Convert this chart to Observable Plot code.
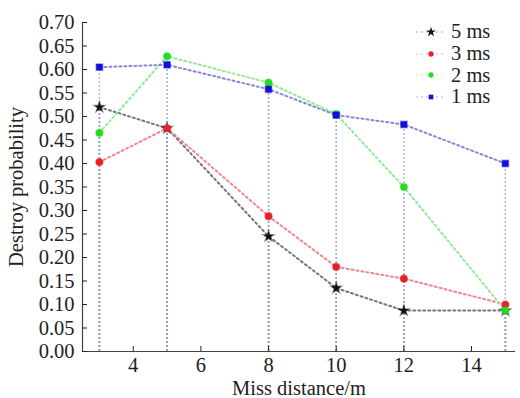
<!DOCTYPE html>
<html>
<head>
<meta charset="utf-8">
<script src="https://cdn.jsdelivr.net/npm/d3@7"></script>
<script src="https://cdn.jsdelivr.net/npm/@observablehq/plot@0.6"></script>
<style>
  html, body { margin: 0; padding: 0; background: #fff; }
  #wrap { position: relative; width: 520px; height: 398px; }
  .legend { position: absolute; left: 416px; top: 21px; font-family: "Liberation Serif", "Times New Roman", serif; font-size: 20.5px; color: #222; }
  .legend .row { display: flex; align-items: center; height: 21.7px; }
  .legend svg { margin-right: 5px; }
</style>
</head>
<body>
<div id="wrap"></div>
<script>
const distances = [3, 5, 8, 10, 12, 15];
const seriesNames = ["5 ms", "3 ms", "2 ms", "1 ms"];
const values5ms = [0.520, 0.475, 0.245, 0.135, 0.087, 0.087];
const values3ms = [0.403, 0.475, 0.288, 0.180, 0.155, 0.100];
const values2ms = [0.465, 0.628, 0.572, 0.505, 0.350, 0.087];
const values1ms = [0.605, 0.610, 0.558, 0.503, 0.483, 0.400];
const yTicks = [0, 0.05, 0.10, 0.15, 0.20, 0.25, 0.30, 0.35, 0.40, 0.45, 0.50, 0.55, 0.60, 0.65, 0.70];
const xTicks = [4, 6, 8, 10, 12, 14];
const xLabel = "Miss distance/m";
const yLabel = "Destroy probability";

const colors = {"5 ms": "#111111", "3 ms": "#e8202a", "2 ms": "#22dd22", "1 ms": "#1010d8"};
const lineColors = {"5 ms": "#666666", "3 ms": "#f07a80", "2 ms": "#88e888", "1 ms": "#7a7ad8"};
const symbols = {"5 ms": "star", "3 ms": "circle", "2 ms": "circle", "1 ms": "square"};

const allValues = [values5ms, values3ms, values2ms, values1ms];
const data = [];
seriesNames.forEach((s, i) => distances.forEach((d, j) => data.push({series: s, x: d, y: allValues[i][j]})));

const font = '"Liberation Serif", "Times New Roman", serif';
const fs = 20.5;
const marks = [];
for (const s of seriesNames) {
  const sub = data.filter(d => d.series === s);
  marks.push(Plot.ruleX(sub, {x: "x", y1: 0, y2: "y", stroke: lineColors[s], strokeOpacity: 0.5, strokeWidth: 1.6, strokeDasharray: "2,2"}));
}
for (const s of seriesNames) {
  const sub = data.filter(d => d.series === s);
  marks.push(Plot.line(sub, {x: "x", y: "y", stroke: lineColors[s], strokeOpacity: 0.9, strokeWidth: 2, strokeDasharray: "2,3"}));
}
for (const s of seriesNames) {
  const sub = data.filter(d => d.series === s);
  marks.push(Plot.dot(sub, {x: "x", y: "y", symbol: () => symbols[s], fill: colors[s], stroke: colors[s], strokeOpacity: 0.4, strokeWidth: 1.5, r: s === "5 ms" ? 3.3 : 3.6}));
}
marks.push(Plot.ruleY([0], {stroke: "#444", strokeWidth: 1.2}));
marks.push(Plot.ruleX([2.5], {stroke: "#444", strokeWidth: 1.2}));
marks.push(Plot.axisX({ticks: xTicks, tickSize: -5, tickPadding: 11, fontSize: fs, label: null}));
marks.push(Plot.axisY({ticks: yTicks, tickSize: -5, tickPadding: 13, fontSize: fs, tickFormat: d => d.toFixed(2), label: null}));
marks.push(Plot.axisX({ticks: [], tickSize: 0, label: xLabel, labelAnchor: "center", labelOffset: 43, labelArrow: "none", fontSize: fs}));
marks.push(Plot.axisY({ticks: [], tickSize: 0, label: yLabel, labelAnchor: "center", labelOffset: 74, labelArrow: "none", fontSize: fs}));

const chart = Plot.plot({
  width: 520,
  height: 398,
  marginLeft: 82,
  marginTop: 22,
  marginBottom: 47,
  marginRight: 5,
  style: {fontFamily: font, fontSize: fs + "px", color: "#222", background: "#fff"},
  symbol: {type: "identity"},
  x: {domain: [2.5, 15.3]},
  y: {domain: [0, 0.70]},
  marks
});

const wrap = document.getElementById("wrap");
wrap.appendChild(chart);

const legend = document.createElement("div");
legend.className = "legend";
for (const s of seriesNames) {
  const row = document.createElement("div");
  row.className = "row";
  const sw = d3.create("svg").attr("width", 30).attr("height", 12);
  sw.append("line").attr("x1", 0).attr("x2", 30).attr("y1", 6).attr("y2", 6)
    .attr("stroke", lineColors[s]).attr("stroke-opacity", 0.3).attr("stroke-width", 2).attr("stroke-dasharray", "2,3");
  const sym = d3.symbol().type(s === "5 ms" ? d3.symbolStar : s === "1 ms" ? d3.symbolSquare : d3.symbolCircle).size(s === "5 ms" ? 30 : 22);
  sw.append("path").attr("d", sym()).attr("transform", "translate(15,6)").attr("fill", colors[s]);
  row.appendChild(sw.node());
  const t = document.createElement("span");
  t.textContent = s;
  row.appendChild(t);
  legend.appendChild(row);
}
wrap.appendChild(legend);
</script>
</body>
</html>
